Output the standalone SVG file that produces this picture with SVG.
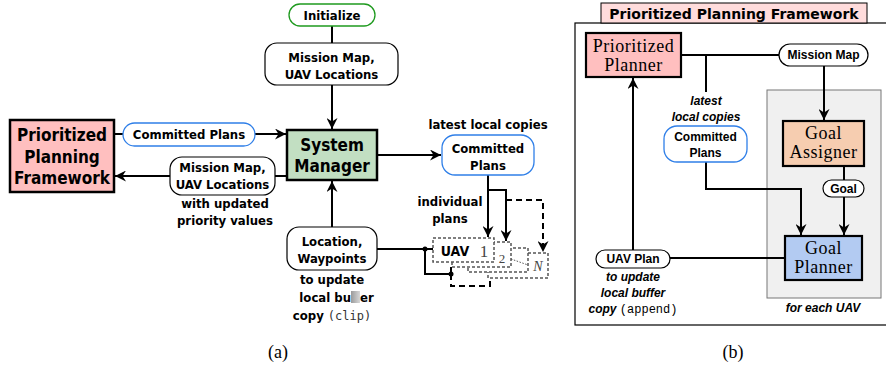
<svg xmlns="http://www.w3.org/2000/svg" width="886" height="366" viewBox="0 0 886 366">
<defs>
<marker id="ah" markerUnits="userSpaceOnUse" markerWidth="12" markerHeight="11" refX="11" refY="5.5" orient="auto">
<path d="M0,0 L11,5.5 L0,11 L3.5,5.5 z" fill="#000"/>
</marker>
<linearGradient id="blot" x1="0" y1="0" x2="1" y2="0">
<stop offset="0" stop-color="#9a9a9a"/>
<stop offset="1" stop-color="#d8d8d8"/>
</linearGradient>
<style>
.a{font-family:"DejaVu Sans Condensed","DejaVu Sans",sans-serif;font-stretch:condensed;font-weight:bold;text-anchor:middle;fill:#000}
.a13{font-size:13px}
.a17{font-size:17px}
.b{font-family:"Liberation Sans",Arial,sans-serif;font-weight:bold;font-size:12px;text-anchor:middle;fill:#000}
.bi{font-family:"Liberation Sans",Arial,sans-serif;font-weight:bold;font-style:italic;font-size:12px;text-anchor:middle;fill:#000}
.s{font-family:"Liberation Serif","Times New Roman",serif;font-size:18px;letter-spacing:0.5px;text-anchor:middle;fill:#000}
.mono{font-family:"Liberation Mono","DejaVu Sans Mono",monospace;font-weight:normal;font-style:normal}
.ln{fill:none;stroke:#000;stroke-width:2}
.arr{fill:none;stroke:#000;stroke-width:2;marker-end:url(#ah)}
.pill{fill:#fff;stroke:#000;stroke-width:1.2}
.bpill{fill:#fff;stroke:#2f7fe8;stroke-width:1.3}
.thick{stroke:#000;stroke-width:2.5}
.dbox{fill:#fff;stroke:#555;stroke-width:1.5;stroke-dasharray:3 2}
</style>
</defs>

<!-- ===== Panel (a) ===== -->
<g id="connectors-a">
<line class="ln" x1="332" y1="26" x2="332" y2="43"/>
<line class="arr" x1="332" y1="85" x2="332" y2="129"/>
<line class="ln" x1="114" y1="134" x2="123" y2="134"/>
<line class="arr" x1="255" y1="134" x2="286" y2="134"/>
<line class="ln" x1="287" y1="176" x2="275" y2="176"/>
<line class="arr" x1="170" y1="176" x2="115" y2="176"/>
<line class="arr" x1="377" y1="155" x2="441" y2="155"/>
<line class="arr" x1="332" y1="227" x2="332" y2="181"/>
<path class="arr" d="M488,175 V237"/>
<path class="arr" d="M488,190 H506 V241"/>
<path class="arr" d="M506,200 H543 V252" stroke-dasharray="6 4"/>
<line class="ln" x1="377" y1="249" x2="433" y2="249"/>
<path class="ln" d="M425,249 V274 H451 V267"/>
<path class="ln" d="M451,274 V286 H490 V278" stroke-dasharray="6 4"/>
<circle cx="425" cy="249" r="2.5" fill="#000"/>
<circle cx="451" cy="274" r="2.5" fill="#000"/>
</g>

<g id="initialize">
<rect x="289" y="4" width="86" height="22" rx="11" fill="#fff" stroke="#1f9a1f" stroke-width="1.3"/>
<text class="a a13" x="332" y="20">Initialize</text>
</g>

<g id="mission-map-a">
<rect class="pill" x="265" y="43" width="133" height="42" rx="12"/>
<text class="a a13" x="331.5" y="62">Mission Map,</text>
<text class="a a13" x="331.5" y="79">UAV Locations</text>
</g>

<g id="system-manager">
<rect x="287" y="130" width="90" height="50" fill="#c2dfc2" class="thick"/>
<text class="a a17" x="332" y="151">System</text>
<text class="a a17" x="332" y="172">Manager</text>
</g>

<g id="ppf">
<rect x="10" y="120" width="104" height="72" fill="#ffbfbf" class="thick"/>
<text class="a a17" x="62" y="141">Prioritized</text>
<text class="a a17" x="62" y="163">Planning</text>
<text class="a a17" x="62" y="184">Framework</text>
</g>

<g id="committed-plans-left">
<rect class="bpill" x="123" y="123" width="132" height="23" rx="11.5"/>
<text class="a a13" x="189" y="139">Committed Plans</text>
</g>

<g id="mission-map-lower">
<rect class="pill" x="170" y="157" width="105" height="38" rx="12"/>
<text class="a a13" x="222.5" y="172">Mission Map,</text>
<text class="a a13" x="222.5" y="189">UAV Locations</text>
<text class="a a13" x="225" y="208">with updated</text>
<text class="a a13" x="225" y="225">priority values</text>
</g>

<g id="committed-plans-right">
<text class="a a13" x="488" y="129">latest local copies</text>
<rect class="bpill" x="442" y="135" width="92" height="40" rx="13"/>
<text class="a a13" x="488" y="153">Committed</text>
<text class="a a13" x="488" y="170">Plans</text>
</g>

<g id="individual-plans-label">
<text class="a a13" x="450" y="206">individual</text>
<text class="a a13" x="450" y="223">plans</text>
</g>

<g id="uav-stack">
<rect class="dbox" x="488" y="253" width="60" height="25"/>
<rect class="dbox" x="468" y="248" width="60" height="24"/>
<rect class="dbox" x="452" y="242" width="59" height="25"/>
<rect class="dbox" x="433" y="238" width="61" height="24"/>
<text class="a" x="455" y="256" font-size="14">UAV</text>
<text x="484" y="257" font-family="Liberation Serif,serif" font-size="17" fill="#444" text-anchor="middle">1</text>
<text x="502" y="263" font-family="Liberation Serif,serif" font-size="13" fill="#444" text-anchor="middle">2</text>
<text x="538" y="271" font-family="Liberation Serif,serif" font-style="italic" font-size="14" fill="#444" text-anchor="middle">N</text>
<line x1="511" y1="259" x2="528" y2="265" stroke="#555" stroke-width="1" stroke-dasharray="1.5 1.5"/>
</g>

<g id="location-waypoints">
<rect class="pill" x="287" y="227" width="90" height="43" rx="12"/>
<text class="a a13" x="332" y="246">Location,</text>
<text class="a a13" x="332" y="263">Waypoints</text>
<text class="a a13" x="332" y="284">to update</text>
<text class="a a13" x="351" y="302" style="text-anchor:end">local bu</text>
<rect x="351" y="291" width="9" height="12" fill="url(#blot)"/>
<text class="a a13" x="360" y="302" style="text-anchor:start">er</text>
<text class="a a13" x="332" y="320">copy <tspan font-family="DejaVu Sans Mono,monospace" font-weight="normal" font-size="12" fill="#333">(clip)</tspan></text>
</g>

<text x="278" y="358" font-family="Liberation Serif,serif" font-size="18" text-anchor="middle">(a)</text>

<!-- ===== Panel (b) ===== -->
<g id="frame-b">
<rect x="575" y="23" width="330" height="302" fill="#fff" stroke="#000" stroke-width="1.2"/>
<rect x="767" y="90" width="114" height="208" fill="#f0f0f0" stroke="#777" stroke-width="1"/>
<text class="bi" x="823" y="312">for each UAV</text>
</g>

<g id="title-b">
<rect x="601" y="3" width="266" height="20" fill="#ffdcdc" stroke="#000" stroke-width="1"/>
<text x="734" y="19" font-family="DejaVu Sans,sans-serif" font-weight="bold" font-size="14" text-anchor="middle">Prioritized Planning Framework</text>
</g>

<g id="connectors-b">
<line class="ln" x1="681" y1="55" x2="779" y2="55"/>
<line class="ln" x1="706" y1="55" x2="706" y2="92"/>
<line class="arr" x1="824" y1="66" x2="824" y2="120"/>
<path class="arr" d="M706,162 V189 H801 V235"/>
<line class="ln" x1="844" y1="166" x2="844" y2="180"/>
<line class="arr" x1="844" y1="197" x2="844" y2="235"/>
<line class="ln" x1="785" y1="258" x2="670" y2="258"/>
<line class="arr" x1="633" y1="250" x2="633" y2="78"/>
</g>

<g id="prioritized-planner">
<rect x="586" y="33" width="95" height="44" fill="#ffbfbf" stroke="#000" stroke-width="2.2"/>
<text class="s" x="633.5" y="52">Prioritized</text>
<text class="s" x="633.5" y="71">Planner</text>
</g>

<g id="mission-map-b">
<rect class="pill" x="779" y="44" width="89" height="22" rx="11"/>
<text class="b" x="823.5" y="59">Mission Map</text>
</g>

<g id="committed-plans-b">
<text class="bi" x="706" y="105">latest</text>
<text class="bi" x="706" y="121">local copies</text>
<rect class="bpill" x="664" y="126" width="83" height="36" rx="13"/>
<text class="b" x="705.5" y="141">Committed</text>
<text class="b" x="705.5" y="157">Plans</text>
</g>

<g id="goal-assigner">
<rect x="783" y="121" width="81" height="45" fill="#f6cdb0" stroke="#000" stroke-width="2.2"/>
<text class="s" x="823.5" y="139">Goal</text>
<text class="s" x="823.5" y="158">Assigner</text>
</g>

<g id="goal-pill">
<rect class="pill" x="823" y="180" width="41" height="17" rx="8.5"/>
<text class="b" x="843.5" y="193">Goal</text>
</g>

<g id="goal-planner">
<rect x="785" y="236" width="77" height="44" fill="#b3cbf2" stroke="#000" stroke-width="2.2"/>
<text class="s" x="823.5" y="254">Goal</text>
<text class="s" x="823.5" y="273">Planner</text>
</g>

<g id="uav-plan">
<rect class="pill" x="596" y="250" width="74" height="18" rx="9"/>
<text class="b" x="633" y="263">UAV Plan</text>
<text class="bi" x="633" y="281">to update</text>
<text class="bi" x="633" y="297">local buffer</text>
<text class="bi" x="633" y="313">copy <tspan class="mono" font-size="12">(append)</tspan></text>
</g>

<text x="733" y="358" font-family="Liberation Serif,serif" font-size="18" text-anchor="middle">(b)</text>
</svg>
